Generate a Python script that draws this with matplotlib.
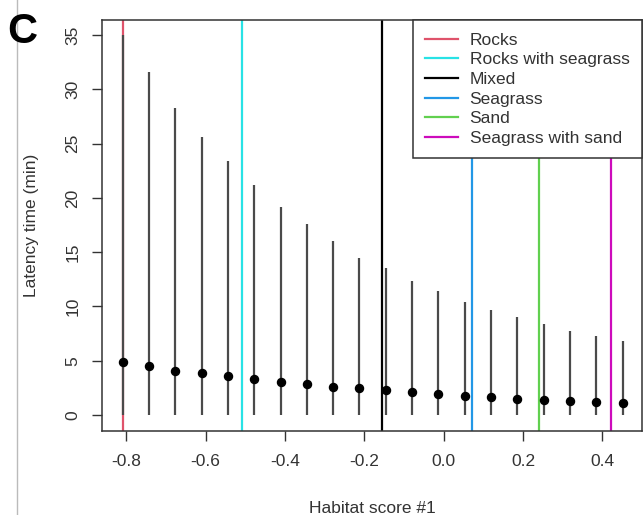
import matplotlib.pyplot as plt
from matplotlib.lines import Line2D

plt.rcParams['font.family'] = ['Liberation Sans', 'DejaVu Sans']

# Data
habitat_score = [-0.809, -0.743, -0.676, -0.610, -0.544, -0.477, -0.411, -0.345, -0.278, -0.212,
                 -0.146, -0.080, -0.013, 0.053, 0.119, 0.186, 0.252, 0.318, 0.385, 0.451]
latency_mean = [4.91, 4.48, 4.08, 3.90, 3.59, 3.28, 3.07, 2.88, 2.61, 2.49,
                2.27, 2.09, 1.90, 1.78, 1.69, 1.50, 1.35, 1.26, 1.17, 1.08]
latency_low = [0.0] * 20
latency_high = [35.0, 31.6, 28.3, 25.6, 23.4, 21.2, 19.2, 17.6, 16.0, 14.5,
                13.5, 12.3, 11.4, 10.4, 9.67, 9.06, 8.35, 7.71, 7.28, 6.79]

habitats = ["Rocks", "Rocks with seagrass", "Mixed", "Seagrass", "Sand", "Seagrass with sand"]
habitat_pos = [-0.809, -0.508, -0.154, 0.0706, 0.240, 0.422]
habitat_col = ["#DF536B", "#28E2E5", "#000000", "#2297E6", "#61D04F", "#CD0BBC"]

fig = plt.figure(figsize=(6.43, 5.15), dpi=100)
ax = fig.add_axes([0.1586, 0.1637, 0.8398, 0.7975])

# habitat reference lines
for pos, col in zip(habitat_pos, habitat_col):
    ax.axvline(pos, color=col, lw=1.6, zorder=1)

# intervals and means
ax.vlines(habitat_score, latency_low, latency_high, color="#4a4a4a", lw=1.6, zorder=2)
ax.plot(habitat_score, latency_mean, "o", color="black", ms=5.8, zorder=3)

ax.set_xlim(-0.861, 0.5)
ax.set_ylim(-1.45, 36.4)
ax.set_xticks([-0.8, -0.6, -0.4, -0.2, 0.0, 0.2, 0.4])
ax.set_xticklabels(["-0.8", "-0.6", "-0.4", "-0.2", "0.0", "0.2", "0.4"])
ax.set_yticks([0, 5, 10, 15, 20, 25, 30, 35])
ax.tick_params(axis="both", labelsize=12.5, length=7.5, width=1, color="#333333",
               labelcolor="#333333")
ax.tick_params(axis="x", pad=9)
ax.tick_params(axis="y", pad=8)
plt.setp(ax.get_yticklabels(), rotation=90, va="center")
for sp in ax.spines.values():
    sp.set_color("#333333")
    sp.set_linewidth(1.1)

ax.set_xlabel("Habitat score #1", fontsize=12.5, color="#333333", labelpad=23)
ax.set_ylabel("Latency time (min)", fontsize=12.5, color="#333333", labelpad=19)

handles = [Line2D([], [], color=c, lw=1.6) for c in habitat_col]
leg = ax.legend(handles, habitats, loc="upper right", borderaxespad=0, fancybox=False,
                edgecolor="#333333", framealpha=1, fontsize=12.5, handlelength=1.9,
                labelspacing=0.26, handletextpad=0.65, borderpad=0.72)
leg.get_frame().set_linewidth(1.1)
for t in leg.get_texts():
    t.set_color("#333333")

fig.text(0.034, 0.938, "C", fontsize=30, fontweight="bold", ha="center", va="center")
fig.add_artist(Line2D([0.026, 0.026], [0, 1], color="#bbbbbb", lw=1, transform=fig.transFigure))

fig.savefig("out.png", dpi=100)
